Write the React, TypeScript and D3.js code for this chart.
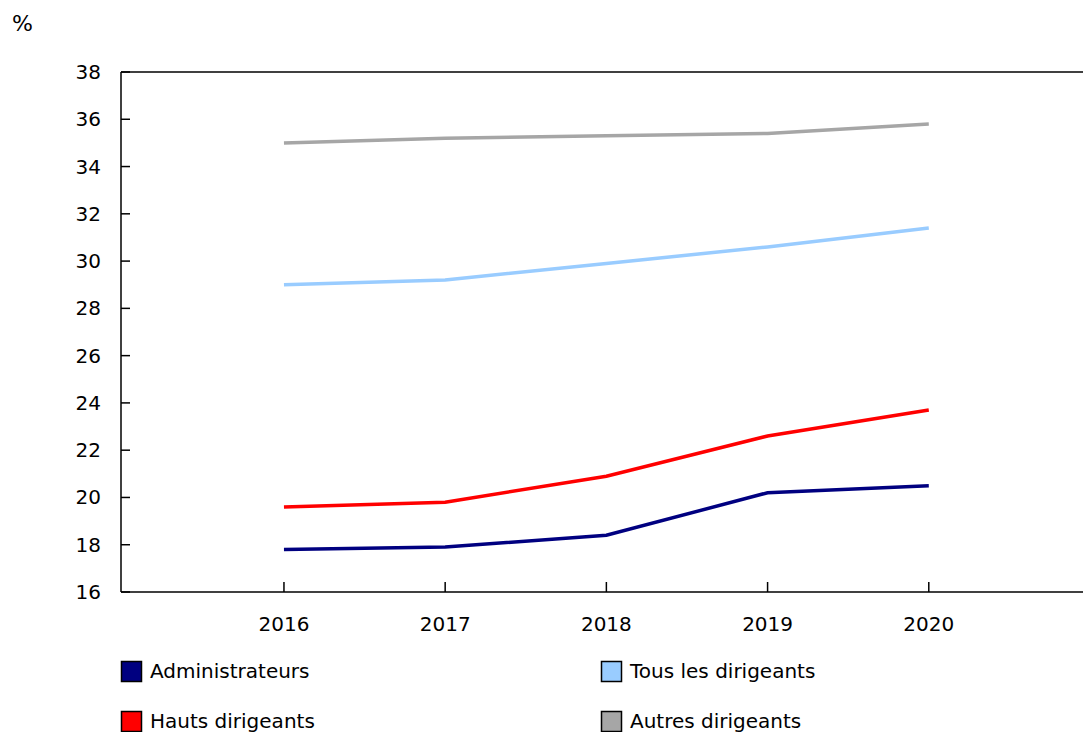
import React from "react";
import * as d3 from "d3";

const years = [2016, 2017, 2018, 2019, 2020];
const administrateurs = [17.8, 17.9, 18.4, 20.2, 20.5];
const hautsDirigeants = [19.6, 19.8, 20.9, 22.6, 23.7];
const tousDirigeants = [29.0, 29.2, 29.9, 30.6, 31.4];
const autresDirigeants = [35.0, 35.2, 35.3, 35.4, 35.8];
const yTicks = [16, 18, 20, 22, 24, 26, 28, 30, 32, 34, 36, 38];

const series = [
  { name: "Administrateurs", values: administrateurs, color: "#000080" },
  { name: "Hauts dirigeants", values: hautsDirigeants, color: "#FF0000" },
  { name: "Tous les dirigeants", values: tousDirigeants, color: "#99CCFF" },
  { name: "Autres dirigeants", values: autresDirigeants, color: "#A6A6A6" },
];
const legendOrder = [
  { s: 0, col: 0, row: 0 },
  { s: 2, col: 1, row: 0 },
  { s: 1, col: 0, row: 1 },
  { s: 3, col: 1, row: 1 },
];

const W = 1083;
const H = 732;
const left = 121;
const top = 72;
const bottom = 592;
const font = "Verdana, 'DejaVu Sans', sans-serif";

export default function App() {
  const x = d3.scaleLinear().domain([2015, 2021]).range([122.75, 1090]);
  const y = d3.scaleLinear().domain([16, 38]).range([bottom, top]);
  const line = d3
    .line<number>()
    .x((_, i) => x(years[i]))
    .y((d) => y(d));

  return (
    <svg
      width={W}
      height={H}
      style={{ position: "absolute", left: 0, top: 0, background: "#fff" }}
      fontFamily={font}
    >
      <text x={12} y={31} fontSize={22} fill="#000">%</text>
      <line x1={left} x2={W} y1={top} y2={top} stroke="#000" strokeWidth={1.5} />
      <line x1={left} x2={left} y1={top} y2={bottom} stroke="#000" strokeWidth={1.5} />
      <line x1={left} x2={W} y1={bottom} y2={bottom} stroke="#000" strokeWidth={1.5} />
      {yTicks.map((t) => (
        <g key={t}>
          <line x1={left} x2={left + 9} y1={y(t)} y2={y(t)} stroke="#000" strokeWidth={1.5} />
          <text x={101} y={y(t)} dy="0.35em" textAnchor="end" fontSize={20} fill="#000">
            {t}
          </text>
        </g>
      ))}
      {years.map((yr) => (
        <g key={yr}>
          <line x1={x(yr)} x2={x(yr)} y1={bottom} y2={bottom - 10} stroke="#000" strokeWidth={1.5} />
          <text x={x(yr)} y={631} textAnchor="middle" fontSize={20} fill="#000">
            {yr}
          </text>
        </g>
      ))}
      {series.map((s) => (
        <path key={s.name} d={line(s.values) || ""} fill="none" stroke={s.color} strokeWidth={3.5} />
      ))}
      {legendOrder.map((l) => {
        const s = series[l.s];
        const lx = l.col === 0 ? 121 : 601;
        const ly = 661 + l.row * 50;
        return (
          <g key={s.name}>
            <rect x={lx + 0.5} y={ly + 0.5} width={20} height={20} fill={s.color} stroke="#000" strokeWidth={1.5} />
            <text x={lx + 29} y={ly + 10} dy="0.35em" fontSize={20} fill="#000">
              {s.name}
            </text>
          </g>
        );
      })}
    </svg>
  );
}
